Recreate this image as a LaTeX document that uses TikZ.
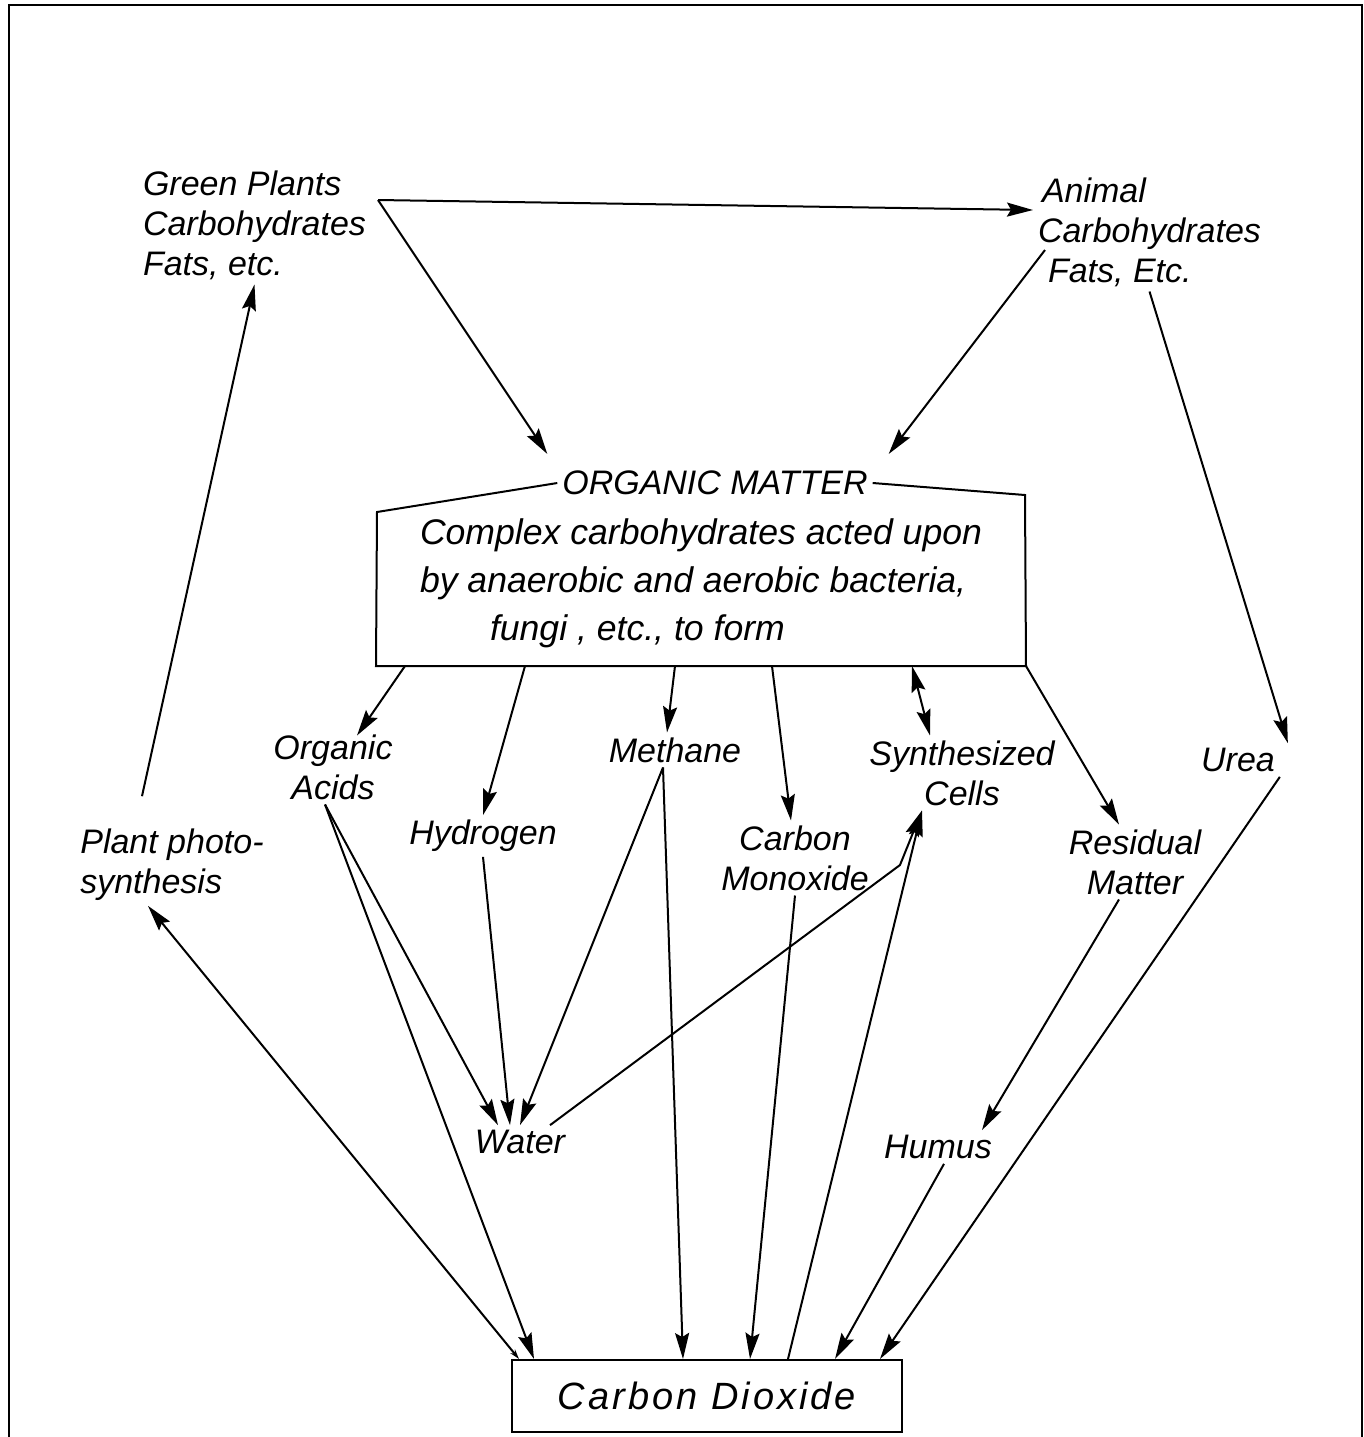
\documentclass[tikz,border=0pt]{standalone}
\usepackage{fontspec}
\setmainfont{Liberation Sans}
\usetikzlibrary{arrows.meta,calc,positioning}

\begin{document}
\begin{tikzpicture}[x=0.5pt,y=-0.5pt, line width=1pt,
    every node/.style={font=\fontsize{17}{20}\selectfont\itshape, inner sep=2pt},
    arr/.style={-{Stealth[length=13pt,width=7pt,inset=2pt]}},
    darr/.style={{Stealth[length=13pt,width=7pt,inset=2pt]}-{Stealth[length=13pt,width=7pt,inset=2pt]}}]
    \useasboundingbox (0,0) rectangle (1364,1437);
    \draw[line width=1.3pt] (9,1437) -- (9,5) -- (1362,5) -- (1362,1437);
    % top row
    \node[anchor=west, align=left] (gp) at (138,225) {Green Plants\\Carbohydrates\\Fats, etc.};
    \node[anchor=west, align=left] (an) at (1033,232) {\hspace*{2pt}Animal\\Carbohydrates\\\hspace*{5pt}Fats, Etc.};
    \coordinate (fork) at (378,200);
    % organic matter box
    \node (omt) at (715,483) {ORGANIC MATTER};
    \node[minimum width=324pt, minimum height=85pt] (om) at (701,580) {};
    \node[anchor=west, align=left, font=\fontsize{17.8}{24}\selectfont\itshape] (omx) at (415,583)
        {Complex carbohydrates acted upon\\by anaerobic and aerobic bacteria,\\\hspace*{35pt}fungi , etc., to form};
    \draw (omt.west) -- (377,512) -- (om.south west) -- (om.south east) -- (1025,495) -- (omt.east);
    % products
    \node[align=center] (oa) at (333,767) {Organic\\Acids};
    \node (hy) at (483,836) {Hydrogen};
    \node (me) at (675,750) {Methane};
    \node[align=center] (co) at (795,858) {Carbon\\Monoxide};
    \node[align=center] (sc) at (962,773) {Synthesized\\Cells};
    \node[align=center] (rm) at (1135,862) {Residual\\Matter};
    \node (ur) at (1238,760) {Urea};
    \node[align=left] (ps) at (172,865) {Plant photo-\\synthesis};
    \node (wa) at (520,1142) {Water};
    \node (hu) at (938,1147) {Humus};
    \node[draw, minimum width=195pt, minimum height=36pt,
        font=\fontsize{19}{22}\selectfont\itshape\addfontfeature{LetterSpace=8}] (cd) at (707,1396) {Carbon Dioxide};
    \coordinate (bend) at (900,865);
    % arrows
    \draw[arr] (fork) -- ([yshift=11pt]an.west);
    \draw[arr] (fork) -- ([xshift=-5pt,yshift=6pt]omt.north west);
    \draw[arr] ([xshift=6pt,yshift=-9pt]an.west) -- ([xshift=8pt,yshift=6pt]omt.north east);
    \draw[arr] (an.south) -- ([xshift=4pt]ur.north east);
    \draw[arr] ([xshift=-148pt]om.south) -- ([xshift=12pt,yshift=-3pt]oa.north);
    \draw[arr] ([xshift=-88pt]om.south) -- (hy.north);
    \draw[arr] ([xshift=-13pt]om.south) -- ([xshift=-4pt]me.north);
    \draw[arr] ([xshift=35.5pt]om.south) -- ([xshift=-2pt]co.north);
    \draw[darr] ([xshift=105.5pt]om.south) -- ([xshift=-16pt]sc.north);
    \draw[arr] (om.south east) -- ([xshift=-8pt]rm.north);
    \draw[arr] ([xshift=-4pt]oa.south) -- ([xshift=11.5pt]cd.north west);
    \draw[arr] ([xshift=-4pt]oa.south) -- ([xshift=-11pt]wa.north);
    \draw[arr] (hy.south) -- ([xshift=-5pt]wa.north);
    \draw[arr] ([xshift=-6pt]me.south) -- (wa.north);
    \draw[arr] ([xshift=-6pt]me.south) -- ([xshift=-12pt]cd.north);
    \draw[arr] (co.south) -- ([xshift=21.5pt]cd.north);
    \draw[arr] ([xshift=-10pt]wa.north east) -- (bend) -- ([xshift=-20pt]sc.south);
    \draw[arr] ([xshift=40.5pt]cd.north) -- ([xshift=-20pt]sc.south);
    \draw[arr] ([xshift=-8pt]rm.south) -- ([xshift=22pt]hu.north);
    \draw[arr] ([xshift=3pt]hu.south) -- ([xshift=64pt]cd.north);
    \draw[arr] (ur.south east) -- ([xshift=86.5pt]cd.north);
    \draw[arr] ([shift={(-15pt,14pt)}]ps.north) -- (gp.south);
    \draw[{Stealth[length=5pt,width=3pt]}-{Stealth[length=13pt,width=7pt,inset=2pt]}] ([xshift=4pt]cd.north west) -- ([xshift=-12pt]ps.south);
\end{tikzpicture}
\end{document}
